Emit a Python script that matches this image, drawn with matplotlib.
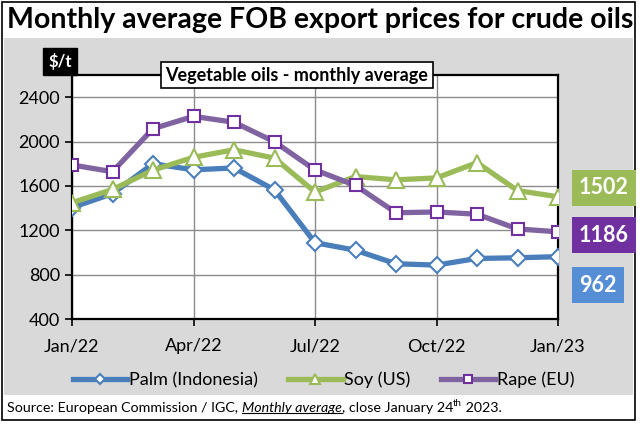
import matplotlib.pyplot as plt
from matplotlib.patches import Rectangle

# data (monthly averages, $/t)
months = ["Jan/22", "Feb/22", "Mar/22", "Apr/22", "May/22", "Jun/22", "Jul/22",
          "Aug/22", "Sep/22", "Oct/22", "Nov/22", "Dec/22", "Jan/23"]
palm = [1405, 1530, 1800, 1745, 1762, 1564, 1088, 1020, 898, 886, 946, 952, 962]
soy = [1448, 1568, 1742, 1858, 1926, 1850, 1545, 1684, 1655, 1672, 1810, 1558, 1502]
rape = [1789, 1728, 2116, 2227, 2174, 1998, 1744, 1604, 1358, 1365, 1345, 1212, 1186]
tick_months = ["Jan/22", "Apr/22", "Jul/22", "Oct/22", "Jan/23"]
yticks = [400, 800, 1200, 1600, 2000, 2400]

plt.rcParams['font.family'] = ['Lato', 'DejaVu Sans']

W, H = 640, 425
fig = plt.figure(figsize=(W / 100, H / 100), dpi=100)


def fx(px):
    return px / W


def fy(py):
    return 1 - py / H


# outer frame, grey panel
fig.patches.append(Rectangle((fx(2), fy(420)), fx(633), 418 / H, transform=fig.transFigure,
                             facecolor="white", edgecolor="black", lw=1.2, zorder=-2))
fig.patches.append(Rectangle((fx(4), fy(395)), fx(629), 357 / H, transform=fig.transFigure,
                             facecolor="#D9D9D9", edgecolor="none", zorder=-1))

fig.text(fx(320), fy(20), "Monthly average FOB export prices for crude oils",
         ha="center", va="center", fontsize=20.5, fontweight="bold")

ax = fig.add_axes([fx(72), fy(319), fx(486), 244 / H])
ax.set_zorder(2)
x = list(range(len(months)))
ax.plot(x, palm, color="#4A7EBB", lw=3.8, marker="D", ms=8, mfc="white", mec="#4A7EBB",
        mew=1.5, label="Palm (Indonesia)", zorder=3)
ax.plot(x, soy, color="#9BBB59", lw=3.8, marker="^", ms=11, mfc="white", mec="#9BBB59",
        mew=1.5, label="Soy (US)", zorder=4)
ax.plot(x, rape, color="#8064A2", lw=3.8, marker="s", ms=9, mfc="white", mec="#7030A0",
        mew=1.5, label="Rape (EU)", zorder=5)

ax.set_xlim(0, 12)
ax.set_ylim(400, 2600)
ax.set_xticks([months.index(m) for m in tick_months])
ax.set_xticklabels(tick_months)
ax.set_yticks(yticks)
ax.grid(True, color="#8C8C8C", lw=1.0)
ax.set_axisbelow(True)
for s in ax.spines.values():
    s.set_color("black")
    s.set_linewidth(1.6)
ax.tick_params(axis="both", labelsize=13, length=5, width=1.2, color="black")
ax.tick_params(axis="x", pad=9)

# unit box and inner title
fig.text(fx(60), fy(61), r"\$/t", ha="center", va="center", fontsize=12,
         fontweight="bold", color="white", zorder=6,
         bbox=dict(boxstyle="square,pad=0.3", fc="black", ec="black"))
fig.text(fx(297), fy(75), "Vegetable oils - monthly average", ha="center", va="center",
         fontsize=13, fontweight="bold", zorder=6,
         bbox=dict(boxstyle="square,pad=0.25", fc="white", ec="black", lw=1.2))

# last-value boxes
labels = [(soy[-1], 188, "#9BBB59"), (rape[-1], 235, "#7030A0"), (palm[-1], 285, "#558ED5")]
for val, py, c in labels:
    fig.text(fx(579), fy(py), str(val), ha="left", va="center", fontsize=15.5,
             fontweight="bold", color="white",
             bbox=dict(boxstyle="square,pad=0.33", fc=c, ec="none"))

fig.legend(loc="center", bbox_to_anchor=(0.506, fy(380)), ncol=3, frameon=False,
           fontsize=13, handlelength=3.0, handletextpad=0.1, columnspacing=1.7,
           markerscale=0.6)

# source line with italic underlined part and superscript
renderer = fig.canvas.get_renderer()
xpos = fx(7)
ypos = fy(408)
parts = [("Source: European Commission / IGC, ", "normal", False),
         ("Monthly average", "italic", True),
         (", close January 24", "normal", False)]
for txt, style, underline in parts:
    t = fig.text(xpos, ypos, txt, ha="left", va="center", fontsize=10.3, style=style)
    bb = t.get_window_extent(renderer).transformed(fig.transFigure.inverted())
    if underline:
        fig.add_artist(plt.Line2D([bb.x0, bb.x1], [bb.y0 + 0.003, bb.y0 + 0.003],
                                  transform=fig.transFigure, color="black", lw=0.8))
    xpos = bb.x1
t = fig.text(xpos, ypos + 0.011, "th", ha="left", va="center", fontsize=7)
bb = t.get_window_extent(renderer).transformed(fig.transFigure.inverted())
fig.text(bb.x1, ypos, " 2023.", ha="left", va="center", fontsize=10.3)

fig.savefig("out.png", dpi=100)
